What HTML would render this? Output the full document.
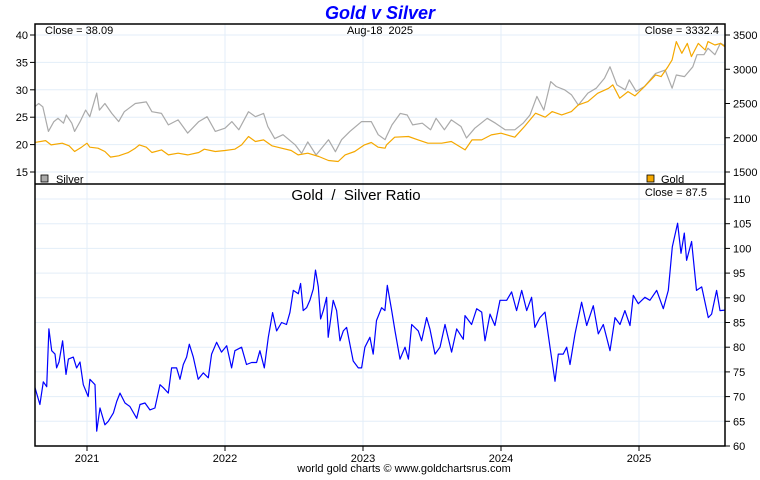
<!DOCTYPE html>
<html><head><meta charset="utf-8"><style>
body{margin:0;background:#fff;width:760px;height:475px;overflow:hidden}
svg text{font-family:"Liberation Sans",sans-serif}
</style></head><body>
<svg id="c" width="760" height="475" xmlns="http://www.w3.org/2000/svg"></svg>
<script>
const goldDates=[2020.62,2020.70,2020.74,2020.82,2020.87,2020.91,2020.96,2021.00,2021.02,2021.08,2021.13,2021.17,2021.23,2021.30,2021.35,2021.38,2021.43,2021.47,2021.54,2021.59,2021.66,2021.73,2021.81,2021.85,2021.93,2022.00,2022.07,2022.12,2022.17,2022.22,2022.28,2022.34,2022.41,2022.48,2022.53,2022.60,2022.68,2022.75,2022.82,2022.87,2022.94,2023.01,2023.06,2023.11,2023.16,
2023.17,2023.23,2023.33,2023.40,2023.47,2023.57,2023.64,2023.74,2023.79,2023.86,2023.93,2024.00,2024.10,2024.17,2024.25,2024.32,2024.37,2024.44,2024.51,2024.56,2024.63,2024.70,2024.78,2024.81,2024.86,2024.92,2024.97,2025.04,2025.12,2025.16,2025.21,2025.24,2025.27,2025.31,2025.35,2025.38,2025.43,2025.48,2025.50,2025.55,2025.59,2025.62];
const goldValues=[1930,1959,1896,1921,1882,1799,1862,1921,1862,1848,1799,1717,1736,1785,1848,1896,1862,1785,1823,1750,1775,1750,1785,1833,1799,1814,1833,1896,2018,1945,1969,1882,1848,1814,1750,1775,1726,1668,1653,1750,1799,1896,1930,1862,1848,
1896,2008,2018,1969,1921,1921,1945,1823,1969,1969,2042,2066,2008,2164,2358,2300,2382,2334,2382,2479,2528,2649,2722,2771,2577,2674,2611,2747,2917,2893,3038,3136,3403,3233,3378,3184,3378,3281,3403,3354,3378,3332];
const silverDates=[2020.62,2020.65,2020.68,2020.72,2020.76,2020.79,2020.83,2020.85,2020.89,2020.91,2020.95,2020.99,2021.02,2021.07,2021.09,2021.13,2021.18,2021.23,2021.27,2021.35,2021.43,2021.47,2021.54,2021.59,2021.66,2021.73,2021.81,2021.87,2021.93,2022.00,2022.05,2022.10,2022.17,2022.22,2022.28,2022.31,2022.36,2022.42,2022.51,2022.555,2022.60,2022.66,2022.75,2022.80,2022.845,2022.905,2022.99,2023.06,2023.11,2023.16,
2023.17,2023.21,2023.27,2023.32,2023.36,2023.43,2023.49,2023.53,2023.59,2023.64,2023.71,2023.75,2023.81,2023.90,2023.96,2024.03,2024.10,2024.16,2024.21,2024.26,2024.31,2024.36,2024.40,2024.46,2024.51,2024.56,2024.63,2024.69,2024.75,2024.79,2024.84,2024.90,2024.93,2024.98,2025.04,2025.12,2025.19,2025.24,2025.27,2025.33,2025.39,2025.42,2025.47,2025.50,2025.55,2025.59,2025.62];
const silverValues=[26.9,27.5,26.9,22.4,24.2,24.8,23.9,25.4,23.9,22.4,24.2,26.3,25.1,29.4,26.3,27.5,25.7,24.2,26.0,27.5,27.8,26.0,25.7,23.6,24.5,22.1,24.2,25.1,22.4,23.0,24.2,22.7,26.0,25.1,25.7,23.3,21.1,21.8,19.9,18.4,20.5,18.1,20.9,18.7,20.9,22.4,24.2,24.2,21.8,20.9,
21.5,23.6,25.7,25.4,23.6,23.9,22.7,24.8,22.7,24.5,23.3,21.2,23.0,24.8,23.9,22.7,22.7,23.9,25.4,28.8,26.3,31.5,30.6,30.0,29.1,27.2,29.4,30.3,32.1,34.2,30.9,30.0,31.8,29.7,30.6,33.0,33.6,30.3,32.7,32.4,34.2,36.4,36.4,37.6,36.4,38.5,38.09];
const ratioDates=[2020.623,2020.659,2020.683,2020.708,2020.724,2020.744,2020.768,2020.780,2020.797,2020.823,2020.848,2020.865,2020.901,2020.925,2020.949,2020.973,2021.009,2021.021,2021.058,2021.070,2021.094,2021.130,2021.154,2021.191,2021.215,2021.239,2021.275,2021.311,2021.360,2021.384,2021.420,2021.456,2021.492,2021.529,2021.553,2021.589,2021.613,2021.649,2021.674,2021.698,2021.722,2021.741,2021.770,2021.806,2021.843,2021.879,2021.903,2021.939,2021.975,2022.012,2022.048,2022.072,2022.120,2022.156,2022.193,2022.229,2022.253,2022.285,2022.314,2022.345,2022.374,2022.410,2022.446,2022.470,2022.495,2022.531,2022.548,2022.567,2022.591,2022.615,2022.640,2022.656,2022.676,2022.693,2022.712,2022.736,2022.748,2022.784,2022.809,2022.833,2022.857,2022.881,2022.905,2022.929,2022.966,2022.990,2023.014,2023.050,2023.074,2023.098,2023.135,2023.159,
2023.176,2023.208,2023.232,2023.268,2023.304,2023.329,2023.353,2023.401,2023.425,2023.461,2023.485,2023.522,2023.558,2023.594,2023.642,2023.679,2023.727,2023.739,2023.787,2023.824,2023.860,2023.884,2023.920,2023.956,2023.993,2024.041,2024.077,2024.113,2024.150,2024.186,2024.222,2024.246,2024.282,2024.319,2024.355,2024.391,2024.415,2024.451,2024.476,2024.500,2024.536,2024.584,2024.621,2024.669,2024.705,2024.741,2024.790,2024.826,2024.862,2024.898,2024.935,2024.959,2024.995,2025.043,2025.079,2025.128,2025.176,2025.212,2025.241,2025.280,2025.304,2025.328,2025.345,2025.381,2025.417,2025.454,2025.502,2025.526,2025.562,2025.587,2025.623];
const ratioValues=[71.8,68.4,73,72,83.7,79.3,78.6,75.8,77,81.3,74.5,77.6,78,75.8,77,72.4,70,73.5,72.4,63,67.7,64.3,65,66.7,69,70.7,68.7,68,65.6,68.4,68.7,67.3,67.7,72.4,71.8,70.7,75.8,75.8,73.5,76.5,78,80.6,78,73.5,74.8,73.8,78.6,81,79,80.3,75.8,79.3,80,76.5,76.9,76.9,79.3,75.8,82,87,83.3,85,84.6,87,91.5,90.8,92.9,87.4,88,89.5,91.8,95.6,92.2,85.7,87.4,90.1,82,89.5,87.4,81.3,83.3,84,80.6,77.2,75.8,75.8,80,82,78.6,85.4,88,87.4,
92.5,87.4,83.3,77.6,80,77.6,84.6,83.3,81.3,86,83.7,78.6,80,84.6,79,83.7,81.6,86.4,84.6,87.8,87.1,81.3,86.7,84.4,89.5,89.5,91.2,87.4,91.5,87.4,90.1,84,86,87.1,80,73.1,78.6,78.6,80,76.5,82.7,89.1,84.4,88.4,82.7,84.6,79.3,86,84.6,87.4,84.4,90.5,88.8,90.1,89.5,91.5,87.8,91.5,100.3,105.1,99,103.1,97.6,101.4,91.5,92.2,86,86.7,91.5,87.4,87.5];
const years=[2021,2022,2023,2024,2025];
const silverTicks=[15,20,25,30,35,40];
const goldTicks=[1500,2000,2500,3000,3500];
const ratioTicks=[60,65,70,75,80,85,90,95,100,105,110];

const L=35,R=725,T1=24,B1=184,T2=184,B2=446;
const xS=t=>87+(t-2021)*138;
const ySil=v=>35+(40-v)*5.48;
const yGold=v=>35+(3500-v)*0.0685;
const yRat=v=>199+(110-v)*4.94;
const svg=document.getElementById('c');
const NS='http://www.w3.org/2000/svg';
function mk(tag,attrs,parent){const e=document.createElementNS(NS,tag);for(const k in attrs)e.setAttribute(k,attrs[k]);(parent||svg).appendChild(e);return e;}
function txt(s,x,y,size,anchor,fill,extra){const e=mk('text',Object.assign({x:x,y:y,'font-size':size,'text-anchor':anchor||'start',fill:fill||'#000'},extra||{}));e.textContent=s;return e;}

const defs=mk('defs',{});
const c1=mk('clipPath',{id:'cp1'},defs);mk('rect',{x:L,y:T1,width:R-L,height:B1-T1},c1);
const c2=mk('clipPath',{id:'cp2'},defs);mk('rect',{x:L,y:T2,width:R-L,height:B2-T2},c2);

// grid
const grid=mk('g',{stroke:'#e3eef8','stroke-width':1});


years.forEach(y=>{mk('line',{x1:xS(y),x2:xS(y),y1:T1,y2:B2},grid);});
silverTicks.forEach(v=>{mk('line',{x1:L,x2:R,y1:ySil(v),y2:ySil(v)},grid);});
ratioTicks.forEach(v=>{if(v<110&&v>60)mk('line',{x1:L,x2:R,y1:yRat(v),y2:yRat(v)},grid);});
mk('line',{x1:L,x2:R,y1:yRat(110),y2:yRat(110)},grid);

function poly(dates,vals,yf,color,clip,name){
  const p=dates.map((d,i)=>xS(d).toFixed(1)+','+yf(vals[i]).toFixed(1)).join(' ');
  const e=mk('polyline',{points:p,fill:'none',stroke:color,'stroke-width':1.2,'clip-path':'url(#'+clip+')','stroke-linejoin':'round'});
  
  
}
poly(silverDates,silverValues,ySil,'#aaaaaa','cp1','silver-line');
poly(goldDates,goldValues,yGold,'#f5a800','cp1','gold-line');
poly(ratioDates,ratioValues,yRat,'#0000ff','cp2','ratio-line');

// frames
mk('rect',{x:L,y:T1,width:R-L,height:B2-T1,fill:'none',stroke:'#000','stroke-width':1.5});
mk('line',{x1:L,x2:R,y1:B1,y2:B1,stroke:'#000','stroke-width':1.5});

// axes ticks
silverTicks.forEach(v=>{const y=ySil(v);mk('line',{x1:L-5,x2:L,y1:y,y2:y,stroke:'#000'});const t=txt(String(v),L-7,y+4,11,'end');

});
goldTicks.forEach(v=>{const y=yGold(v);mk('line',{x1:R,x2:R+5,y1:y,y2:y,stroke:'#000'});const t=txt(String(v),R+8,y+4,11,'start');

});
ratioTicks.forEach(v=>{const y=yRat(v);mk('line',{x1:R,x2:R+5,y1:y,y2:y,stroke:'#000'});const t=txt(String(v),R+8,y+4,11,'start');

});
years.forEach(yr=>{const x=xS(yr);mk('line',{x1:x,x2:x,y1:B2,y2:B2+5,stroke:'#000'});const t=txt(String(yr),x,462,11,'middle');

});
</script>
<svg width="760" height="475" style="position:absolute;left:0;top:0" xmlns="http://www.w3.org/2000/svg">
<text x="380" y="19" font-size="18" font-weight="bold" font-style="italic" fill="#0000ff" text-anchor="middle" font-family="Liberation Sans, sans-serif">Gold v Silver</text>
<text x="45" y="34" font-size="11" font-family="Liberation Sans, sans-serif">Close = 38.09</text>
<text x="380" y="34" font-size="11" text-anchor="middle" font-family="Liberation Sans, sans-serif" xml:space="preserve">Aug-18  2025</text>
<text x="719" y="34" font-size="11" text-anchor="end" font-family="Liberation Sans, sans-serif">Close = 3332.4</text>
<rect x="41" y="175" width="7" height="7" fill="#aaaaaa" stroke="#000" stroke-width="0.8"/>
<text x="56" y="183" font-size="11" font-family="Liberation Sans, sans-serif">Silver</text>
<rect x="647" y="175" width="7" height="7" fill="#f5a800" stroke="#000" stroke-width="0.8"/>
<text x="661" y="183" font-size="11" font-family="Liberation Sans, sans-serif">Gold</text>
<text x="356" y="200" font-size="15" text-anchor="middle" font-family="Liberation Sans, sans-serif" xml:space="preserve">Gold  /  Silver Ratio</text>
<text x="707" y="196" font-size="11" text-anchor="end" font-family="Liberation Sans, sans-serif">Close = 87.5</text>
<text x="404" y="472" font-size="11" text-anchor="middle" font-family="Liberation Sans, sans-serif">world gold charts © www.goldchartsrus.com</text>
</svg>
</body></html>
